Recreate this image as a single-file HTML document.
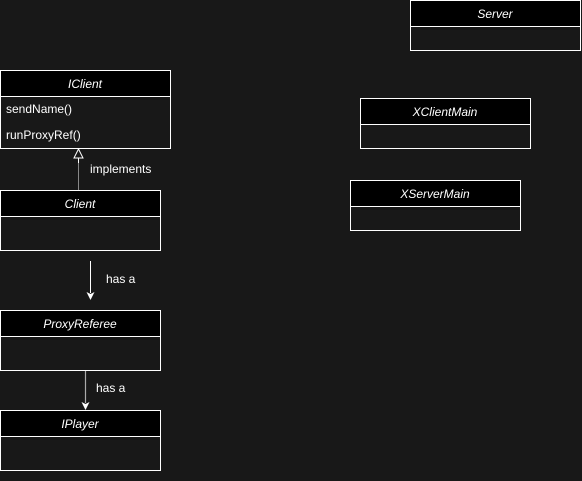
<!DOCTYPE html>
<html><head><style>
html,body{margin:0;padding:0;background:#181818;}
svg{display:block;}
text{font-family:"Liberation Sans",Arial,sans-serif;font-size:12px;fill:#fff;}
.t{font-style:italic;text-anchor:middle;}
</style></head><body>
<svg width="582" height="481" viewBox="0 0 582 481">
<rect width="582" height="481" fill="#181818"/>
<g stroke="#fff" stroke-width="1">
<!-- IClient -->
<rect x="0.5" y="70.5" width="170" height="78" fill="#181818"/>
<rect x="0.5" y="70.5" width="170" height="26" fill="#000"/>
<!-- Client -->
<rect x="0.5" y="190.5" width="160" height="60" fill="#181818"/>
<rect x="0.5" y="190.5" width="160" height="26" fill="#000"/>
<!-- ProxyReferee -->
<rect x="0.5" y="310.5" width="160" height="60" fill="#181818"/>
<rect x="0.5" y="310.5" width="160" height="26" fill="#000"/>
<!-- IPlayer -->
<rect x="0.5" y="410.5" width="160" height="60" fill="#181818"/>
<rect x="0.5" y="410.5" width="160" height="26" fill="#000"/>
<!-- Server -->
<rect x="410.5" y="0.5" width="170" height="50" fill="#181818"/>
<rect x="410.5" y="0.5" width="170" height="26" fill="#000"/>
<!-- XClientMain -->
<rect x="360.5" y="98.5" width="170" height="50" fill="#181818"/>
<rect x="360.5" y="98.5" width="170" height="26" fill="#000"/>
<!-- XServerMain -->
<rect x="350.5" y="180.5" width="170" height="50" fill="#181818"/>
<rect x="350.5" y="180.5" width="170" height="26" fill="#000"/>
</g>
<!-- implements -->
<line x1="78.5" y1="190" x2="78.5" y2="163" stroke="#888" stroke-width="1"/>
<line x1="78.5" y1="163" x2="78.5" y2="152" stroke="#fff" stroke-width="1"/>
<path d="M74,158 L78.5,149 L83,158 Z" fill="#181818" stroke="#fff" stroke-width="1"/>
<!-- has a 1 -->
<line x1="90.5" y1="261" x2="90.5" y2="293" stroke="#fff" stroke-width="1"/>
<path d="M86.5,292 L90.5,300 L94.5,292 L90.5,294 Z" fill="#fff"/>
<!-- has a 2 -->
<line x1="85.5" y1="371" x2="85.5" y2="403" stroke="#aaa" stroke-width="1.2"/>
<path d="M81.5,402 L85.5,410 L89.5,402 L85.5,404 Z" fill="#fff"/>
<text class="t" x="85" y="88">IClient</text>
<text x="6" y="113">sendName()</text>
<text x="6" y="139">runProxyRef()</text>
<text x="90" y="173">implements</text>
<text class="t" x="80" y="208">Client</text>
<text x="106" y="283">has a</text>
<text class="t" x="80" y="328">ProxyReferee</text>
<text x="96" y="392">has a</text>
<text class="t" x="80" y="428">IPlayer</text>
<text class="t" x="495" y="18">Server</text>
<text class="t" x="445" y="116">XClientMain</text>
<text class="t" x="435" y="198">XServerMain</text>
</svg>
</body></html>
